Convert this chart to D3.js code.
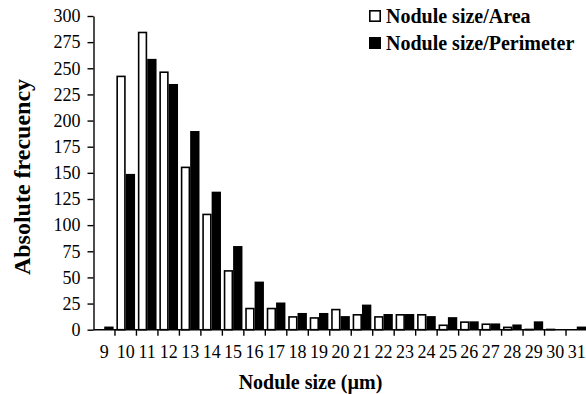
<!DOCTYPE html>
<html>
<head>
<meta charset="utf-8">
<script src="https://cdn.jsdelivr.net/npm/d3@7"></script>
<style>
  html, body { margin: 0; padding: 0; background: #fff; }
  svg { display: block; }
  text { font-family: "Liberation Serif", "Times New Roman", serif; fill: #000; }
</style>
</head>
<body>
<svg id="chart" width="586" height="394"></svg>
<script>
// Nodule size classes (µm)
const sizes = ["9","10","11","12","13","14","15","16","17","18","19","20","21","22","23","24","25","26","27","28","29","30","31"];
// Absolute frequency per size class, measured by area
const areaCounts = [0, 243, 285, 247, 156, 111, 57, 21, 21, 13, 12, 20, 15, 13, 15, 15, 5, 8, 6, 3, 1, 1, 0];
// Absolute frequency per size class, measured by perimeter
const perimeterCounts = [3, 149, 259, 235, 190, 132, 80, 46, 26, 16, 16, 13, 24, 15, 15, 13, 12, 8, 6, 5, 8, 0, 3];
const seriesNames = ["Nodule size/Area", "Nodule size/Perimeter"];
const yTicks = [0, 25, 50, 75, 100, 125, 150, 175, 200, 225, 250, 275, 300];

const svg = d3.select("#chart");
const plotLeft = 93.5, plotRight = 587.5, plotTop = 16, plotBottom = 329.7;

const x = d3.scaleBand().domain(sizes).range([plotLeft, plotRight]).paddingInner(0).paddingOuter(0);
const xs = d3.scaleBand().domain(seriesNames).range([0, x.bandwidth()]).paddingInner(0).paddingOuter(0.149);
const y = d3.scaleLinear().domain([0, 300]).range([plotBottom, plotTop]);

const rows = sizes.map((s, i) => ({ size: s, values: [areaCounts[i], perimeterCounts[i]] }));

// Bars
const groups = svg.append("g").selectAll("g").data(rows).join("g")
  .attr("transform", d => `translate(${x(d.size)},0)`);
groups.selectAll("rect")
  .data(d => d.values.map((v, k) => ({ series: seriesNames[k], k, v })).filter(d => d.v > 0))
  .join("rect")
  .attr("x", d => xs(d.series) + (d.k === 0 ? 0.8 : 0))
  .attr("width", d => xs.bandwidth() - (d.k === 0 ? 1.6 : 0))
  .attr("y", d => y(d.v) + (d.k === 0 ? 0.8 : 0))
  .attr("height", d => Math.max(0, plotBottom - y(d.v) - (d.k === 0 ? 0.8 : 0)))
  .attr("fill", d => d.k === 0 ? "#fff" : "#000")
  .attr("stroke", d => d.k === 0 ? "#000" : "none")
  .attr("stroke-width", 1.6);

// Y axis
const yAxis = svg.append("g")
  .attr("transform", `translate(${plotLeft},0)`)
  .call(d3.axisLeft(y).tickValues(yTicks).tickSize(6).tickPadding(7).tickSizeOuter(0));
yAxis.select(".domain").attr("stroke", "#000").attr("stroke-width", 1.4);
yAxis.selectAll(".tick line").attr("stroke", "#000").attr("stroke-width", 1.4);
yAxis.selectAll(".tick text").attr("font-size", 18).attr("font-family", "Liberation Serif");

// X axis: line, boundary ticks and centred labels
const xAxis = svg.append("g").attr("transform", `translate(0,${plotBottom})`);
xAxis.append("line").attr("x1", plotLeft).attr("x2", plotRight).attr("stroke", "#000").attr("stroke-width", 1.4);
xAxis.selectAll("line.tk").data(sizes.slice(1)).join("line")
  .attr("class", "tk")
  .attr("x1", d => x(d)).attr("x2", d => x(d))
  .attr("y1", 0).attr("y2", 6)
  .attr("stroke", "#000").attr("stroke-width", 1.4);
xAxis.selectAll("text").data(sizes).join("text")
  .attr("x", d => x(d) + x.bandwidth() / 2)
  .attr("y", 28)
  .attr("text-anchor", "middle")
  .attr("font-size", 18)
  .text(d => d);

// Axis titles
svg.append("text")
  .attr("x", (plotLeft + plotRight) / 2 - 30).attr("y", 389)
  .attr("text-anchor", "middle")
  .attr("font-size", 20).attr("font-weight", "bold")
  .text("Nodule size (µm)");
svg.append("text")
  .attr("transform", `translate(30,177) rotate(-90)`)
  .attr("text-anchor", "middle")
  .attr("font-size", 24).attr("font-weight", "bold")
  .text("Absolute frecuency");

// Legend
const legend = svg.append("g").attr("transform", "translate(369,0)");
seriesNames.forEach((name, k) => {
  const cy = 16 + k * 27;
  legend.append("rect")
    .attr("x", 0.8).attr("y", cy - 5.2).attr("width", 10.4).attr("height", 10.4)
    .attr("fill", k === 0 ? "#fff" : "#000")
    .attr("stroke", "#000").attr("stroke-width", 1.6);
  legend.append("text")
    .attr("x", 17).attr("y", cy + 6.5)
    .attr("font-size", 20).attr("font-weight", "bold")
    .text(name);
});
</script>
</body>
</html>
